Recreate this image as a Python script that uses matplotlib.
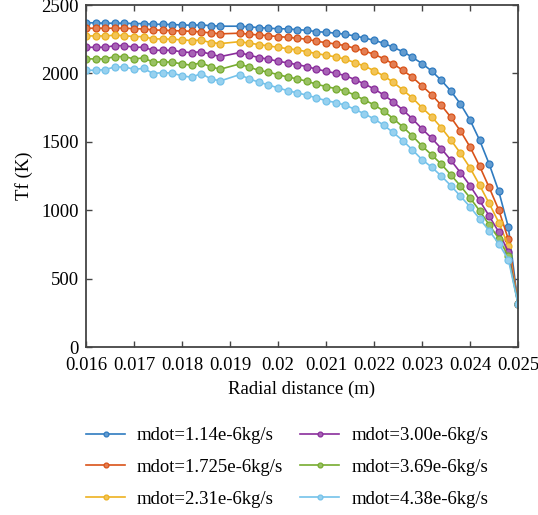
import numpy as np
import matplotlib
matplotlib.use("Agg")
import matplotlib.pyplot as plt
from matplotlib.colors import to_rgb

plt.rcParams['font.family'] = ['Liberation Serif', 'DejaVu Serif']

# radial positions (m); the point at 0.019 is absent in the source
r = [0.0160, 0.0162, 0.0164, 0.0166, 0.0168, 0.0170, 0.0172, 0.0174, 0.0176,
     0.0178, 0.0180, 0.0182, 0.0184, 0.0186, 0.0188, 0.0192, 0.0194, 0.0196,
     0.0198, 0.0200, 0.0202, 0.0204, 0.0206, 0.0208, 0.0210, 0.0212, 0.0214,
     0.0216, 0.0218, 0.0220, 0.0222, 0.0224, 0.0226, 0.0228, 0.0230, 0.0232,
     0.0234, 0.0236, 0.0238, 0.0240, 0.0242, 0.0244, 0.0246, 0.0248, 0.0250]

tf_114 = [2371, 2369, 2367, 2367, 2367, 2364, 2364, 2359, 2359, 2357, 2354, 2352,
          2354, 2349, 2345, 2345, 2340, 2335, 2330, 2327, 2325, 2320, 2315,
          2305, 2301, 2294, 2286, 2274, 2259, 2242, 2221, 2191, 2159, 2118,
          2072, 2018, 1950, 1872, 1777, 1660, 1512, 1337, 1137, 874, 316]
tf_1725 = [2330, 2330, 2330, 2330, 2330, 2327, 2325, 2318, 2315, 2313, 2310, 2308,
           2303, 2296, 2289, 2294, 2286, 2281, 2276, 2269, 2264, 2257, 2250,
           2235, 2225, 2215, 2203, 2184, 2164, 2140, 2108, 2069, 2023, 1972,
           1909, 1845, 1768, 1680, 1580, 1463, 1322, 1166, 1001, 786, 316]
tf_231 = [2274, 2274, 2274, 2279, 2276, 2269, 2269, 2252, 2252, 2250, 2245, 2240,
          2243, 2225, 2218, 2232, 2221, 2211, 2201, 2191, 2181, 2172, 2159,
          2145, 2133, 2121, 2104, 2079, 2053, 2021, 1982, 1936, 1879, 1821,
          1750, 1684, 1604, 1514, 1417, 1310, 1183, 1049, 910, 738, 316]
tf_300 = [2191, 2191, 2191, 2203, 2203, 2191, 2191, 2169, 2169, 2169, 2157, 2152,
          2159, 2140, 2123, 2152, 2133, 2116, 2104, 2089, 2077, 2064, 2050,
          2031, 2016, 2001, 1984, 1955, 1923, 1887, 1843, 1792, 1733, 1668,
          1595, 1527, 1451, 1366, 1275, 1180, 1071, 957, 840, 694, 316]
tf_369 = [2106, 2106, 2106, 2123, 2123, 2106, 2113, 2082, 2084, 2082, 2069, 2060,
          2079, 2047, 2031, 2069, 2045, 2023, 2009, 1991, 1974, 1960, 1943,
          1921, 1904, 1889, 1872, 1841, 1806, 1770, 1726, 1670, 1609, 1543,
          1470, 1405, 1337, 1259, 1178, 1091, 996, 893, 793, 662, 316]
tf_438 = [2023, 2023, 2028, 2047, 2047, 2031, 2036, 1999, 2006, 2002, 1982, 1972,
          1999, 1960, 1945, 1991, 1960, 1936, 1916, 1894, 1874, 1858, 1841,
          1821, 1801, 1787, 1768, 1738, 1704, 1668, 1622, 1568, 1509, 1441,
          1370, 1315, 1251, 1180, 1103, 1025, 937, 850, 755, 638, 316]

labels = ['mdot=1.14e-6kg/s', 'mdot=1.725e-6kg/s', 'mdot=2.31e-6kg/s',
          'mdot=3.00e-6kg/s', 'mdot=3.69e-6kg/s', 'mdot=4.38e-6kg/s']
series = [tf_114, tf_1725, tf_231, tf_300, tf_369, tf_438]
colors = ['#2F7BC0', '#D95319', '#EDB120', '#8A2E9C', '#77AC30', '#74C2EA']

xticks = [0.016, 0.017, 0.018, 0.019, 0.020, 0.021, 0.022, 0.023, 0.024, 0.025]
xticklabels = ['0.016', '0.017', '0.018', '0.019', '0.02', '0.021', '0.022',
               '0.023', '0.024', '0.025']
yticks = [0, 500, 1000, 1500, 2000, 2500]

fs = 13.5
fig = plt.figure(figsize=(5.38, 5.15), dpi=100)
ax = fig.add_axes([86/538, 1-347/515, 432/538, 342/515])

for y, lab, c in zip(series, labels, colors):
    face = 0.75*np.array(to_rgb(c)) + 0.25
    ax.plot(r, y, '-o', color=c, lw=1.2, ms=5, mec=c, mfc=face, mew=0.9,
            label=lab)

ax.set_xlim(0.016, 0.025)
ax.set_ylim(0, 2500)
ax.set_xticks(xticks)
ax.set_xticklabels(xticklabels)
ax.set_yticks(yticks)
ax.tick_params(direction='in', top=True, right=True, length=4.5, width=1,
               color='#444444', labelsize=fs)
ax.tick_params(axis='x', pad=7.5)
ax.tick_params(axis='y', pad=5)
for s in ax.spines.values():
    s.set_color('#444444')
    s.set_linewidth(1.3)

ax.set_xlabel('Radial distance (m)', fontsize=fs, labelpad=4.5)
ax.set_ylabel('Tf (K)', fontsize=fs, labelpad=6)

fig.legend(loc='upper left', bbox_to_anchor=(86/538, 1-427/515), ncol=2,
           frameon=False, fontsize=fs, handlelength=2.08, handletextpad=0.64,
           columnspacing=0.9, labelspacing=0.78, borderpad=0, borderaxespad=0,
           markerscale=0.7)

fig.savefig('out.png', dpi=100)
